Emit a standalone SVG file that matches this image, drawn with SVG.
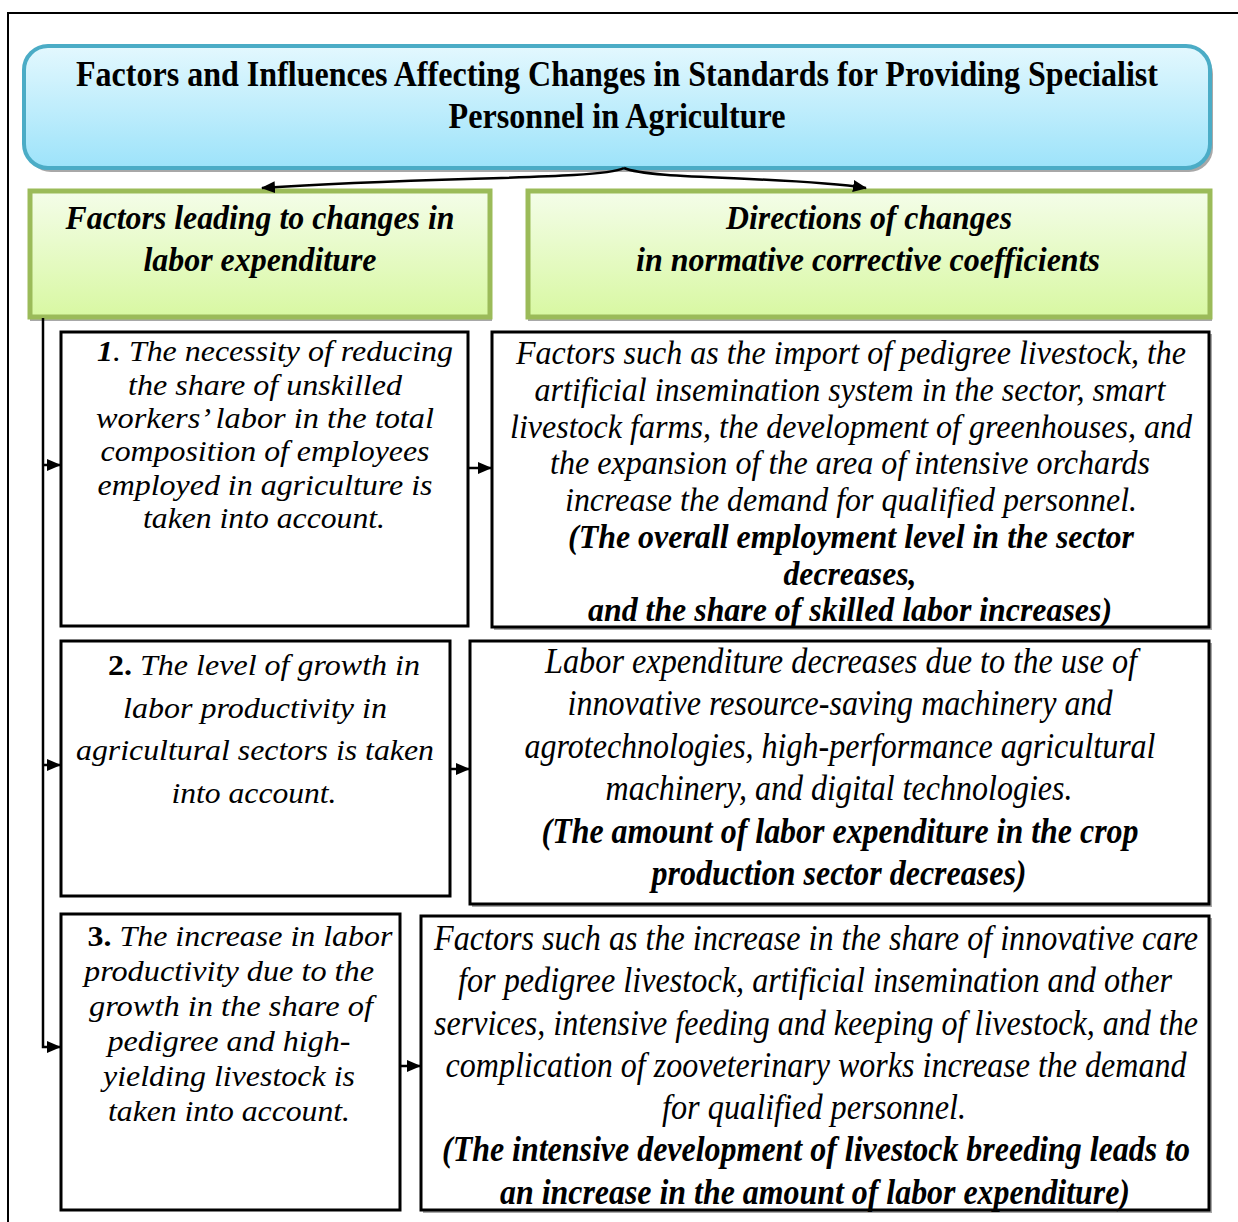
<svg xmlns="http://www.w3.org/2000/svg" width="1238" height="1222" viewBox="0 0 1238 1222">
  <defs>
    <linearGradient id="gHead" x1="0" y1="0" x2="0" y2="1">
      <stop offset="0" stop-color="#E3F8FE"/>
      <stop offset="1" stop-color="#9DE3FA"/>
    </linearGradient>
    <linearGradient id="gGreen" x1="0" y1="0" x2="0" y2="1">
      <stop offset="0" stop-color="#F4FDE9"/>
      <stop offset="1" stop-color="#D8F8A2"/>
    </linearGradient>
    <marker id="arr" markerUnits="userSpaceOnUse" markerWidth="14" markerHeight="12" refX="13" refY="6" orient="auto">
      <path d="M0,0 L14,6 L0,12 z" fill="#000"/>
    </marker>
    <style>
      .frame { fill: none; stroke: #000; stroke-width: 2; }
      .box { fill: #fff; stroke: #000; stroke-width: 3; }
      .shadow { fill: #A8A8A8; }
      .green { fill: url(#gGreen); stroke: #9BBB59; stroke-width: 5; }
      .conn { fill: none; stroke: #000; stroke-width: 2.5; }
    </style>
  </defs>

  <!-- page frame -->
  <path class="frame" d="M8,1222 V13 H1238"/>

  <!-- title -->
  <g id="title">
    <rect class="shadow" x="27" y="50" width="1186" height="122" rx="24"/>
    <rect x="24" y="46" width="1186" height="122" rx="24" fill="url(#gHead)" stroke="#4BACC6" stroke-width="4"/>
    <text font-family="Liberation Serif" font-size="35" font-weight="bold" x="617" y="86" text-anchor="middle" textLength="1082" lengthAdjust="spacingAndGlyphs">Factors and Influences Affecting Changes in Standards for Providing Specialist</text>
    <text font-family="Liberation Serif" font-size="35" font-weight="bold" x="617" y="128" text-anchor="middle" textLength="337" lengthAdjust="spacingAndGlyphs">Personnel in Agriculture</text>
  </g>

  <!-- column headers -->
  <g id="head-left">
    <rect class="shadow" x="30" y="194" width="462" height="127"/>
    <rect class="green" x="30" y="191" width="460" height="126"/>
    <text font-family="Liberation Serif" font-size="33" font-weight="bold" font-style="italic" x="260" y="229" text-anchor="middle" textLength="389" lengthAdjust="spacingAndGlyphs">Factors leading to changes in</text>
    <text font-family="Liberation Serif" font-size="33" font-weight="bold" font-style="italic" x="260" y="271" text-anchor="middle" textLength="233" lengthAdjust="spacingAndGlyphs">labor expenditure</text>
  </g>
  <g id="head-right">
    <rect class="shadow" x="528" y="194" width="684" height="127"/>
    <rect class="green" x="528" y="191" width="682" height="126"/>
    <text font-family="Liberation Serif" font-size="33" font-weight="bold" font-style="italic" x="869" y="229" text-anchor="middle" textLength="286" lengthAdjust="spacingAndGlyphs">Directions of changes</text>
    <text font-family="Liberation Serif" font-size="33" font-weight="bold" font-style="italic" x="868" y="271" text-anchor="middle" textLength="464" lengthAdjust="spacingAndGlyphs">in normative corrective coefficients</text>
  </g>

  <!-- row 1 -->
  <g id="factor-1">
    <rect class="box" x="61" y="332" width="407" height="294"/>
    <text font-family="Liberation Serif" font-size="29" font-style="italic" x="275" y="361" text-anchor="middle" textLength="356" lengthAdjust="spacingAndGlyphs"><tspan font-weight="bold">1</tspan>. The necessity of reducing</text>
    <text font-family="Liberation Serif" font-size="29" font-style="italic" x="265" y="395" text-anchor="middle" textLength="274" lengthAdjust="spacingAndGlyphs">the share of unskilled</text>
    <text font-family="Liberation Serif" font-size="29" font-style="italic" x="265" y="428" text-anchor="middle" textLength="338" lengthAdjust="spacingAndGlyphs">workers’ labor in the total</text>
    <text font-family="Liberation Serif" font-size="29" font-style="italic" x="265" y="461" text-anchor="middle" textLength="329" lengthAdjust="spacingAndGlyphs">composition of employees</text>
    <text font-family="Liberation Serif" font-size="29" font-style="italic" x="265" y="495" text-anchor="middle" textLength="335" lengthAdjust="spacingAndGlyphs">employed in agriculture is</text>
    <text font-family="Liberation Serif" font-size="29" font-style="italic" x="264" y="528" text-anchor="middle" textLength="242" lengthAdjust="spacingAndGlyphs">taken into account.</text>
  </g>
  <g id="direction-1">
    <rect class="shadow" x="494" y="334" width="718" height="296"/>
    <rect class="box" x="492" y="332" width="717" height="295"/>
    <text font-family="Liberation Serif" font-size="33" font-style="italic" x="851" y="364" text-anchor="middle" textLength="670" lengthAdjust="spacingAndGlyphs">Factors such as the import of pedigree livestock, the</text>
    <text font-family="Liberation Serif" font-size="33" font-style="italic" x="850" y="401" text-anchor="middle" textLength="631" lengthAdjust="spacingAndGlyphs">artificial insemination system in the sector, smart</text>
    <text font-family="Liberation Serif" font-size="33" font-style="italic" x="851" y="438" text-anchor="middle" textLength="682" lengthAdjust="spacingAndGlyphs">livestock farms, the development of greenhouses, and</text>
    <text font-family="Liberation Serif" font-size="33" font-style="italic" x="850" y="474" text-anchor="middle" textLength="600" lengthAdjust="spacingAndGlyphs">the expansion of the area of intensive orchards</text>
    <text font-family="Liberation Serif" font-size="33" font-style="italic" x="851" y="511" text-anchor="middle" textLength="572" lengthAdjust="spacingAndGlyphs">increase the demand for qualified personnel.</text>
    <text font-family="Liberation Serif" font-size="33" font-style="italic" font-weight="bold" x="851" y="548" text-anchor="middle" textLength="566" lengthAdjust="spacingAndGlyphs">(The overall employment level in the sector</text>
    <text font-family="Liberation Serif" font-size="33" font-style="italic" font-weight="bold" x="850" y="585" text-anchor="middle" textLength="133" lengthAdjust="spacingAndGlyphs">decreases,</text>
    <text font-family="Liberation Serif" font-size="33" font-style="italic" font-weight="bold" x="850" y="621" text-anchor="middle" textLength="524" lengthAdjust="spacingAndGlyphs">and the share of skilled labor increases)</text>
  </g>

  <!-- row 2 -->
  <g id="factor-2">
    <rect class="box" x="61" y="641" width="389" height="255"/>
    <text font-family="Liberation Serif" font-size="30" font-style="italic" x="264" y="675" text-anchor="middle" textLength="312" lengthAdjust="spacingAndGlyphs"><tspan font-weight="bold" font-style="normal">2.</tspan> The level of growth in</text>
    <text font-family="Liberation Serif" font-size="30" font-style="italic" x="255" y="718" text-anchor="middle" textLength="264" lengthAdjust="spacingAndGlyphs">labor productivity in</text>
    <text font-family="Liberation Serif" font-size="30" font-style="italic" x="255" y="760" text-anchor="middle" textLength="358" lengthAdjust="spacingAndGlyphs">agricultural sectors is taken</text>
    <text font-family="Liberation Serif" font-size="30" font-style="italic" x="254" y="803" text-anchor="middle" textLength="165" lengthAdjust="spacingAndGlyphs">into account.</text>
  </g>
  <g id="direction-2">
    <rect class="shadow" x="472" y="643" width="740" height="264"/>
    <rect class="box" x="470" y="641" width="739" height="263"/>
    <text font-family="Liberation Serif" font-size="35" font-style="italic" x="841" y="673" text-anchor="middle" textLength="592" lengthAdjust="spacingAndGlyphs">Labor expenditure decreases due to the use of</text>
    <text font-family="Liberation Serif" font-size="35" font-style="italic" x="840" y="715" text-anchor="middle" textLength="545" lengthAdjust="spacingAndGlyphs">innovative resource-saving machinery and</text>
    <text font-family="Liberation Serif" font-size="35" font-style="italic" x="840" y="758" text-anchor="middle" textLength="631" lengthAdjust="spacingAndGlyphs">agrotechnologies, high-performance agricultural</text>
    <text font-family="Liberation Serif" font-size="35" font-style="italic" x="839" y="800" text-anchor="middle" textLength="467" lengthAdjust="spacingAndGlyphs">machinery, and digital technologies.</text>
    <text font-family="Liberation Serif" font-size="35" font-style="italic" font-weight="bold" x="840" y="843" text-anchor="middle" textLength="597" lengthAdjust="spacingAndGlyphs">(The amount of labor expenditure in the crop</text>
    <text font-family="Liberation Serif" font-size="35" font-style="italic" font-weight="bold" x="839" y="885" text-anchor="middle" textLength="375" lengthAdjust="spacingAndGlyphs">production sector decreases)</text>
  </g>

  <!-- row 3 -->
  <g id="factor-3">
    <rect class="box" x="61" y="914" width="339" height="296"/>
    <text font-family="Liberation Serif" font-size="29" font-style="italic" x="240" y="946" text-anchor="middle" textLength="305" lengthAdjust="spacingAndGlyphs"><tspan font-weight="bold" font-style="normal">3.</tspan> The increase in labor</text>
    <text font-family="Liberation Serif" font-size="29" font-style="italic" x="229" y="981" text-anchor="middle" textLength="290" lengthAdjust="spacingAndGlyphs">productivity due to the</text>
    <text font-family="Liberation Serif" font-size="29" font-style="italic" x="231" y="1016" text-anchor="middle" textLength="284" lengthAdjust="spacingAndGlyphs">growth in the share of</text>
    <text font-family="Liberation Serif" font-size="29" font-style="italic" x="229" y="1051" text-anchor="middle" textLength="243" lengthAdjust="spacingAndGlyphs">pedigree and high-</text>
    <text font-family="Liberation Serif" font-size="29" font-style="italic" x="229" y="1086" text-anchor="middle" textLength="252" lengthAdjust="spacingAndGlyphs">yielding livestock is</text>
    <text font-family="Liberation Serif" font-size="29" font-style="italic" x="229" y="1121" text-anchor="middle" textLength="242" lengthAdjust="spacingAndGlyphs">taken into account.</text>
  </g>
  <g id="direction-3">
    <rect class="shadow" x="423" y="918" width="789" height="295"/>
    <rect class="box" x="421" y="916" width="788" height="294"/>
    <text font-family="Liberation Serif" font-size="35" font-style="italic" x="816" y="950" text-anchor="middle" textLength="764" lengthAdjust="spacingAndGlyphs">Factors such as the increase in the share of innovative care</text>
    <text font-family="Liberation Serif" font-size="35" font-style="italic" x="815" y="992" text-anchor="middle" textLength="714" lengthAdjust="spacingAndGlyphs">for pedigree livestock, artificial insemination and other</text>
    <text font-family="Liberation Serif" font-size="35" font-style="italic" x="816" y="1035" text-anchor="middle" textLength="764" lengthAdjust="spacingAndGlyphs">services, intensive feeding and keeping of livestock, and the</text>
    <text font-family="Liberation Serif" font-size="35" font-style="italic" x="816" y="1077" text-anchor="middle" textLength="741" lengthAdjust="spacingAndGlyphs">complication of zooveterinary works increase the demand</text>
    <text font-family="Liberation Serif" font-size="35" font-style="italic" x="814" y="1119" text-anchor="middle" textLength="304" lengthAdjust="spacingAndGlyphs">for qualified personnel.</text>
    <text font-family="Liberation Serif" font-size="35" font-style="italic" font-weight="bold" x="816" y="1161" text-anchor="middle" textLength="748" lengthAdjust="spacingAndGlyphs">(The intensive development of livestock breeding leads to</text>
    <text font-family="Liberation Serif" font-size="35" font-style="italic" font-weight="bold" x="815" y="1204" text-anchor="middle" textLength="630" lengthAdjust="spacingAndGlyphs">an increase in the amount of labor expenditure)</text>
  </g>

  <!-- connectors -->
  <g id="connectors">
    <path class="conn" d="M624,168 C600,180 440,176 262,188" marker-end="url(#arr)"/>
    <path class="conn" d="M624,168 C650,180 790,176 866,188" marker-end="url(#arr)"/>
    <path class="conn" d="M43,318 V1047 H60" marker-end="url(#arr)"/>
    <path class="conn" d="M43,465 H60" marker-end="url(#arr)"/>
    <path class="conn" d="M43,765 H60" marker-end="url(#arr)"/>
    <path class="conn" d="M469,468 H491" marker-end="url(#arr)"/>
    <path class="conn" d="M450,769 H469" marker-end="url(#arr)"/>
    <path class="conn" d="M400,1066 H420" marker-end="url(#arr)"/>
  </g>
</svg>
